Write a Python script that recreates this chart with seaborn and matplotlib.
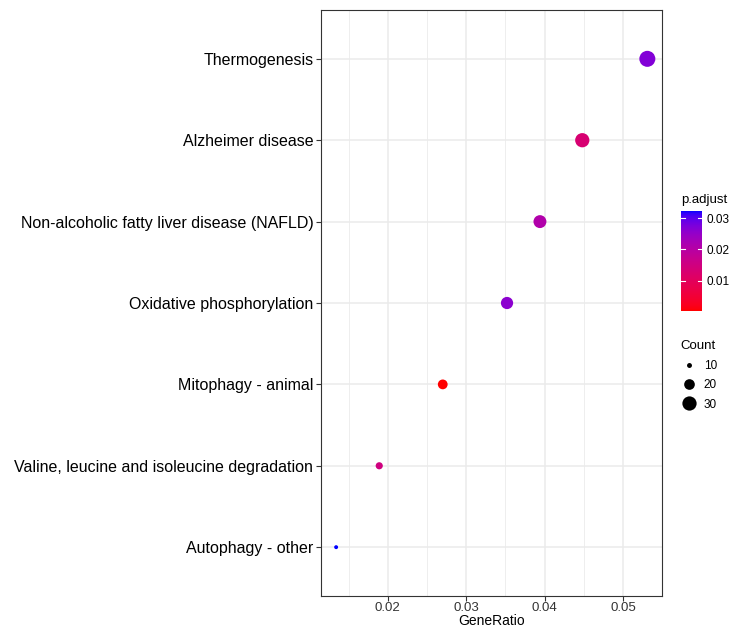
import numpy as np
import pandas as pd
import matplotlib
matplotlib.use("Agg")
import matplotlib.pyplot as plt
import seaborn as sns
from matplotlib.colors import LinearSegmentedColormap, Normalize
from matplotlib.cm import ScalarMappable
from matplotlib.lines import Line2D

pathways = ["Thermogenesis", "Alzheimer disease",
            "Non-alcoholic fatty liver disease (NAFLD)",
            "Oxidative phosphorylation", "Mitophagy - animal",
            "Valine, leucine and isoleucine degradation", "Autophagy - other"]
gene_ratio = [0.0531, 0.0448, 0.0394, 0.0352, 0.0270, 0.0189, 0.0134]
counts = [36, 30, 26, 24, 18, 13, 9]
p_adjust = [0.027, 0.013, 0.021, 0.026, 0.0003, 0.015, 0.0323]
x_ticks = [0.02, 0.03, 0.04, 0.05]
cbar_ticks = [0.01, 0.02, 0.03]
size_breaks = [10, 20, 30]

df = pd.DataFrame({"Description": pathways, "GeneRatio": gene_ratio,
                   "Count": counts, "p.adjust": p_adjust})

# Lab-interpolated red->blue gradient (like ggplot2 scale_color_gradient)
def srgb_to_lab(rgb):
    rgb = np.asarray(rgb, float)
    lin = np.where(rgb <= 0.04045, rgb / 12.92, ((rgb + 0.055) / 1.055) ** 2.4)
    M = np.array([[0.4124, 0.3576, 0.1805], [0.2126, 0.7152, 0.0722], [0.0193, 0.1192, 0.9505]])
    xyz = M @ lin
    wp = np.array([0.95047, 1.0, 1.08883])
    t = xyz / wp
    f = np.where(t > 0.008856, np.cbrt(t), 7.787 * t + 16 / 116)
    return np.array([116 * f[1] - 16, 500 * (f[0] - f[1]), 200 * (f[1] - f[2])])

def lab_to_srgb(lab):
    L, a, b = lab
    fy = (L + 16) / 116
    fx = fy + a / 500
    fz = fy - b / 200
    f = np.array([fx, fy, fz])
    t = np.where(f ** 3 > 0.008856, f ** 3, (f - 16 / 116) / 7.787)
    xyz = t * np.array([0.95047, 1.0, 1.08883])
    Minv = np.array([[3.2406, -1.5372, -0.4986], [-0.9689, 1.8758, 0.0415], [0.0557, -0.2040, 1.0570]])
    lin = Minv @ xyz
    lin = np.clip(lin, 0, 1)
    rgb = np.where(lin <= 0.0031308, 12.92 * lin, 1.055 * lin ** (1 / 2.4) - 0.055)
    return np.clip(rgb, 0, 1)

lab_lo = srgb_to_lab([1, 0, 0])
lab_hi = srgb_to_lab([0, 0, 1])
cols = [lab_to_srgb(lab_lo + (lab_hi - lab_lo) * t) for t in np.linspace(0, 1, 256)]
cmap = LinearSegmentedColormap.from_list("rb", cols)
norm = Normalize(vmin=min(p_adjust), vmax=max(p_adjust))

plt.rcParams["font.family"] = ["Liberation Sans", "DejaVu Sans"]
fig = plt.figure(figsize=(7.3, 6.29), dpi=100)
ax = fig.add_axes([321 / 730, 1 - 596 / 629, 341 / 730, 586 / 629])

smin, smax = min(counts), max(counts)
s_lo, s_hi = 8, 133
sns.scatterplot(data=df, x="GeneRatio", y="Description", hue="p.adjust",
                size="Count", sizes=(s_lo, s_hi), size_norm=(smin, smax),
                hue_norm=norm, palette=cmap, linewidth=0, legend=False, ax=ax,
                zorder=3)

ax.set_ylim(len(pathways) - 1 + 0.6, -0.6)
ax.set_xlim(0.01147, 0.05497)
ax.set_xticks(x_ticks)
ax.set_xticklabels([f"{v:.2f}" for v in x_ticks])
ax.set_xticks([0.015, 0.025, 0.035, 0.045], minor=True)
ax.grid(True, which="major", color="#EBEBEB", linewidth=1.1, zorder=0)
ax.grid(True, which="minor", axis="x", color="#EBEBEB", linewidth=0.6, zorder=0)
ax.set_axisbelow(True)
ax.tick_params(axis="x", which="minor", length=0)
ax.tick_params(axis="both", which="major", length=3.5, width=0.8, color="#333333")
ax.tick_params(axis="y", labelsize=11.5, labelcolor="black", pad=2)
ax.tick_params(axis="x", labelsize=9.5, labelcolor="#333333", pad=1)
for s in ax.spines.values():
    s.set_color("#333333")
    s.set_linewidth(0.8)
ax.set_xlabel("GeneRatio", fontsize=10, labelpad=0)
ax.set_ylabel("")

# colorbar
cax = fig.add_axes([681 / 730, 1 - 311 / 629, 21 / 730, 100 / 629])
sm = ScalarMappable(norm=norm, cmap=cmap)
cb = fig.colorbar(sm, cax=cax, ticks=cbar_ticks)
cb.outline.set_visible(False)
cb.ax.tick_params(length=0, labelsize=8.5, pad=3)
cb.ax.set_yticklabels([f"{v:.2f}" for v in cbar_ticks])
for t in cbar_ticks:
    cax.plot([0, 0.2], [t, t], color="white", lw=0.8, transform=cax.get_yaxis_transform())
    cax.plot([0.8, 1], [t, t], color="white", lw=0.8, transform=cax.get_yaxis_transform())
fig.text(681 / 730, 1 - 200 / 629, "p.adjust", fontsize=9.5, va="center", ha="left")

# size legend
handles = []
for b in size_breaks:
    area = s_lo + (s_hi - s_lo) * (b - smin) / (smax - smin)
    handles.append(Line2D([], [], marker="o", linestyle="", color="black",
                          markersize=np.sqrt(area), markeredgewidth=0, label=str(b)))
leg = fig.legend(handles=handles, title="Count", loc="upper left",
                 bbox_to_anchor=(672 / 730, 1 - 332 / 629), frameon=False,
                 fontsize=8.5, title_fontsize=9.5, handletextpad=0.5,
                 labelspacing=0.63, handlelength=1.5, borderpad=0.2)
leg._legend_box.align = "left"

fig.savefig("out.png", dpi=100)
